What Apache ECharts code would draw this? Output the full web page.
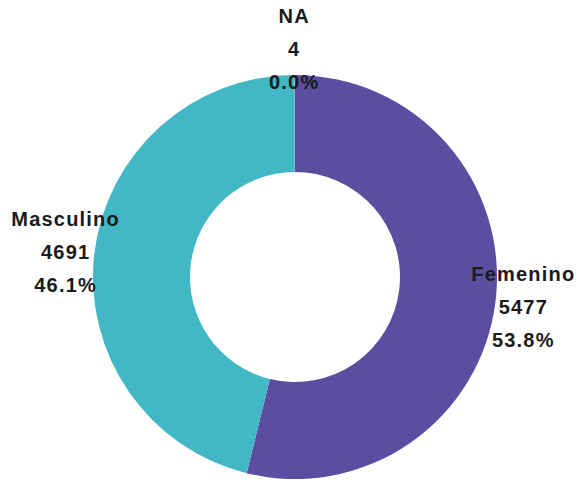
<!DOCTYPE html>
<html>
<head>
<meta charset="utf-8">
<script src="https://cdn.jsdelivr.net/npm/echarts@6/dist/echarts.min.js"></script>
<style>
html,body{margin:0;padding:0;background:#fff;}
#c{width:576px;height:482px;}
#c svg text{letter-spacing:1.2px;}
</style>
</head>
<body>
<div id="c"></div>
<script>
const categories = ['Femenino', 'Masculino', 'NA'];
const values = [5477, 4691, 4];
const colors = ['#5B4DA0', '#42B7C6', '#9a9a9a'];

const total = values.reduce((a, b) => a + b, 0);
const data = categories.map((c, i) => ({ name: c, value: values[i], itemStyle: { color: colors[i] } }));
const labelData = categories.map((c, i) => ({ name: c, value: values[i] }));

const chart = echarts.init(document.getElementById('c'), null, { renderer: 'svg' });

chart.setOption({
  animation: false,
  backgroundColor: '#fff',
  series: [
    {
      type: 'pie',
      center: [295, 277],
      radius: [105, 202],
      startAngle: 90,
      clockwise: true,
      minAngle: 0,
      avoidLabelOverlap: false,
      silent: true,
      label: { show: false },
      labelLine: { show: false },
      itemStyle: { borderWidth: 0 },
      data: data
    },
    {
      type: 'pie',
      center: [294.5, 279],
      radius: [217, 238],
      startAngle: 90,
      clockwise: true,
      silent: true,
      avoidLabelOverlap: false,
      itemStyle: { color: 'rgba(0,0,0,0)', borderWidth: 0 },
      labelLine: { show: false },
      label: {
        show: true,
        position: 'inside',
        fontFamily: 'Liberation Sans, Arial, sans-serif',
        fontSize: 20,
        fontWeight: 'bold',
        color: '#1a1a1a',
        lineHeight: 33,
        align: 'center',
        formatter: function (p) {
          return p.name + '\n' + p.value + '\n' + (p.value / total * 100).toFixed(1) + '%';
        }
      },
      data: labelData
    }
  ]
});
</script>
</body>
</html>
